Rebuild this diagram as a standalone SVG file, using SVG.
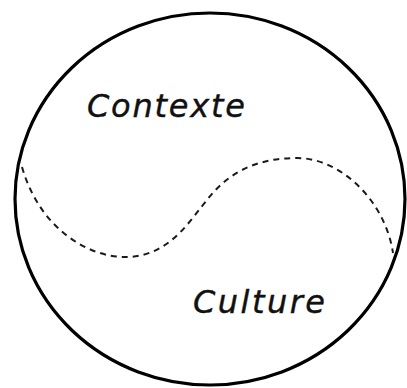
<svg xmlns="http://www.w3.org/2000/svg" width="407" height="388" viewBox="0 0 407 388">
<style>
.outline{fill:none;stroke:#000;stroke-width:3.2}
.divide{fill:none;stroke:#1a1a1a;stroke-width:2;stroke-dasharray:6 5}
.lbl{font-family:"DejaVu Sans","Liberation Sans",sans-serif;font-style:italic;font-size:32px;fill:#111;stroke:#111;stroke-width:0.4}
</style>
<rect width="407" height="388" fill="#fff"/>
<g id="circle"><ellipse class="outline" cx="210" cy="199" rx="195" ry="186"/></g>
<g id="connectors"><path class="divide" d="M22,167 C40,230 90,258 127,257 C170,256 190,220 207,200 C230,170 260,158 297,158 C340,158 385,200 393,253"/></g>
<g id="contexte"><text class="lbl" x="87" y="117" textLength="158" lengthAdjust="spacing">Contexte</text></g>
<g id="culture"><text class="lbl" x="193" y="313" textLength="132" lengthAdjust="spacing">Culture</text></g>
</svg>
